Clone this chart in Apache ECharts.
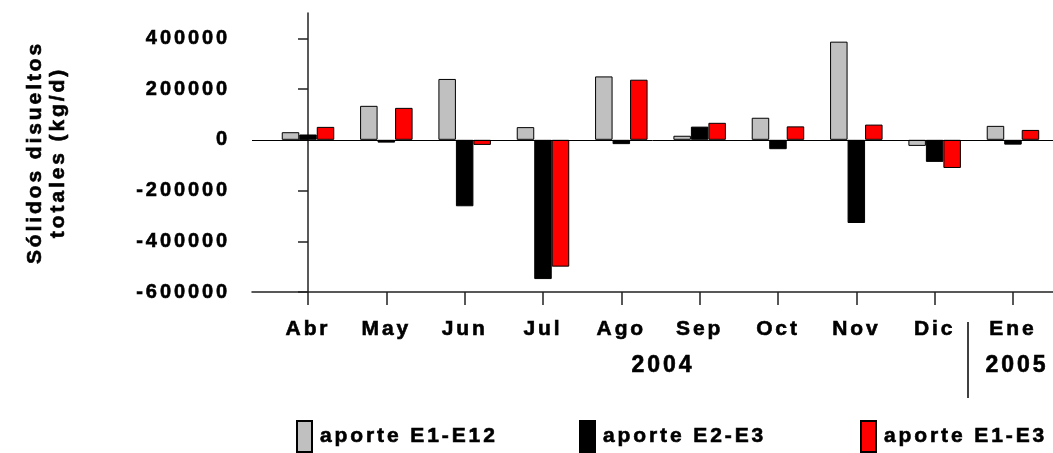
<!DOCTYPE html>
<html>
<head>
<meta charset="utf-8">
<script src="https://cdn.jsdelivr.net/npm/echarts@6/dist/echarts.min.js"></script>
<style>
  html, body { margin: 0; padding: 0; background: #fff; }
  #chart { width: 1053px; height: 453px; }
</style>
</head>
<body>
<div id="chart"></div>
<script>
// Monthly dissolved-solids contributions (kg/d), April 2004 – January 2005
const months = ['Abr', 'May', 'Jun', 'Jul', 'Ago', 'Sep', 'Oct', 'Nov', 'Dic', 'Ene'];
const aporteE1E12 = [30000, 134000, 240000, 50000, 250000, 16000, 87000, 387000, -24000, 55000];
const aporteE2E3 = [21000, -11000, -262000, -549000, -17000, 52000, -37000, -328000, -87000, -19000];
const aporteE1E3 = [51000, 126000, -20000, -500000, 237000, 67000, 53000, 60000, -111000, 39000];
const yTicks = [-600000, -400000, -200000, 0, 200000, 400000];
const years = ['2004', '2005'];
const seriesNames = ['aporte E1-E12', 'aporte E2-E3', 'aporte E1-E3'];

// Wide tracking on every label: apply canvas letter spacing to drawing and measuring
const TRACKING = '2.9px';
(function () {
  const proto = CanvasRenderingContext2D.prototype;
  ['fillText', 'strokeText', 'measureText'].forEach(function (fn) {
    const orig = proto[fn];
    proto[fn] = function () { this.letterSpacing = TRACKING; return orig.apply(this, arguments); };
  });
})();

const FONT = '"Liberation Sans", Arial, sans-serif';
// heavy black lettering: bold face plus a thin outline
const INK = { color: '#000', fontFamily: FONT, fontWeight: 'bold', textBorderColor: '#000', textBorderWidth: 0.6 };
const monthIdx = months.map((m, i) => i);
const toPairs = vals => vals.map((v, i) => [i, v]);

const barStyle = color => ({ color: color, borderColor: '#000', borderWidth: 1 });

const legendBase = {
  top: 420,
  padding: 0,
  icon: 'rect',
  itemWidth: 15,
  itemHeight: 31,
  textStyle: Object.assign({ fontSize: 21, padding: [0, 0, 0, 3] }, INK),
  selectedMode: false
};

const chart = echarts.init(document.getElementById('chart'), null, { renderer: 'canvas' });

chart.setOption({
  animation: false,
  backgroundColor: '#fff',
  grid: { left: 252, right: 0, top: 13, bottom: 161 },
  xAxis: {
    type: 'value',
    min: -0.715,
    max: 9.511,
    splitLine: { show: false },
    axisLine: { show: true, onZero: false, lineStyle: { color: '#222', width: 1.5 } },
    axisTick: { show: true, customValues: monthIdx, length: 13, lineStyle: { color: '#222', width: 1.5 } },
    axisLabel: Object.assign({
      customValues: monthIdx,
      margin: 25,
      fontSize: 21,
      formatter: v => months[Math.round(v)]
    }, INK)
  },
  yAxis: {
    type: 'value',
    min: -600000,
    max: 500000,
    splitLine: { show: false },
    axisLine: { show: true, lineStyle: { color: '#222', width: 1.5 } },
    axisTick: { show: true, customValues: yTicks, length: 10, lineStyle: { color: '#222', width: 1.5 } },
    axisLabel: Object.assign({
      customValues: yTicks,
      margin: 22,
      fontSize: 20,
      formatter: v => String(v)
    }, INK),
    name: 'Sólidos disueltos\ntotales (kg/d)',
    nameLocation: 'middle',
    nameGap: 182,
    nameTextStyle: Object.assign({ fontSize: 21, lineHeight: 23 }, INK)
  },
  legend: [
    Object.assign({ left: 296, data: [seriesNames[0]] }, legendBase),
    Object.assign({ left: 579, data: [seriesNames[1]] }, legendBase),
    Object.assign({ left: 860, data: [seriesNames[2]] }, legendBase)
  ],
  series: [
    {
      name: seriesNames[0], type: 'bar', barWidth: 17.5, barGap: '0%',
      itemStyle: barStyle('#c0c0c0'), data: toPairs(aporteE1E12),
      markLine: {
        silent: true, symbol: 'none', label: { show: false },
        lineStyle: { color: '#000', width: 1, type: 'solid' },
        data: [{ yAxis: 0 }]
      }
    },
    { name: seriesNames[1], type: 'bar', barWidth: 17.5, barGap: '0%', itemStyle: barStyle('#000000'), data: toPairs(aporteE2E3) },
    { name: seriesNames[2], type: 'bar', barWidth: 17.5, barGap: '0%', itemStyle: barStyle('#ff0000'), data: toPairs(aporteE1E3) }
  ],
  graphic: [
    { type: 'line', shape: { x1: 968, y1: 322, x2: 968, y2: 398 }, style: { stroke: '#000', lineWidth: 1.5 } },
    { type: 'text', x: 663, y: 366, style: { text: years[0], font: 'bold 23px ' + FONT, fill: '#000', stroke: '#000', lineWidth: 0.6, textAlign: 'center', textVerticalAlign: 'middle' } },
    { type: 'text', x: 1017, y: 366, style: { text: years[1], font: 'bold 23px ' + FONT, fill: '#000', stroke: '#000', lineWidth: 0.6, textAlign: 'center', textVerticalAlign: 'middle' } }
  ]
});
</script>
</body>
</html>
